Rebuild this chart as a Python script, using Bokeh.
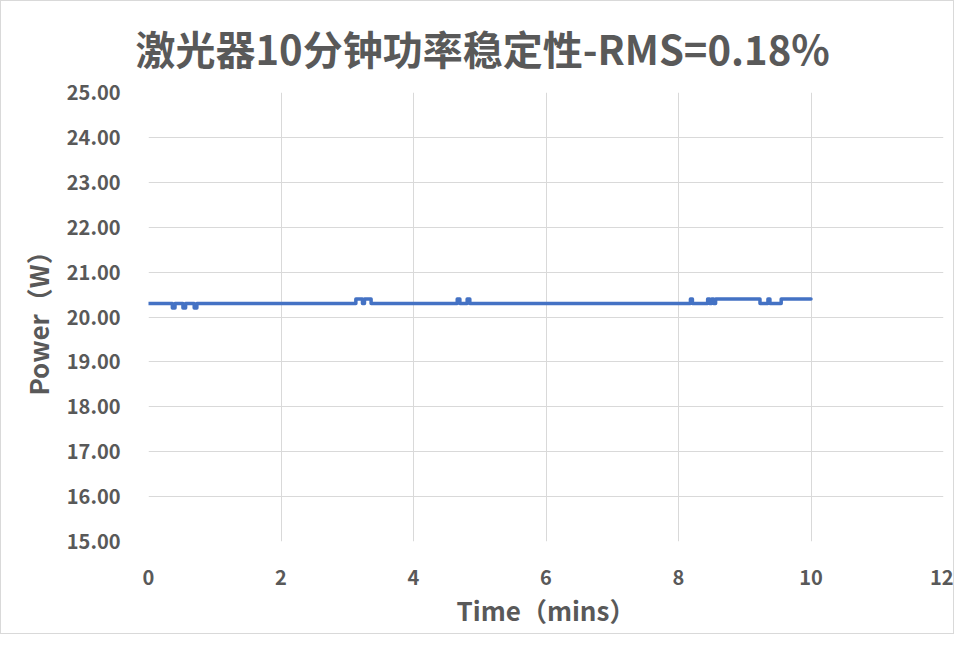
from bokeh.plotting import figure
from bokeh.models import FixedTicker, NumeralTickFormatter, Range1d
from bokeh.embed import file_html
from bokeh.resources import INLINE

# change points of the power trace (time in minutes, power in W)
change_times = [0.00, 0.36, 0.40, 0.52, 0.56, 0.69, 0.73,
                3.13, 3.23, 3.26, 3.36,
                4.66, 4.70, 4.81, 4.85,
                8.18, 8.21,
                8.44, 8.47, 8.50, 8.53, 8.56,
                9.23, 9.35, 9.38, 9.55, 10.00]
change_power = [20.3, 20.2, 20.3, 20.2, 20.3, 20.2, 20.3,
                20.4, 20.3, 20.4, 20.3,
                20.4, 20.3, 20.4, 20.3,
                20.4, 20.3,
                20.4, 20.3, 20.4, 20.3, 20.4,
                20.3, 20.4, 20.3, 20.4, 20.4]

x_ticks = [0, 2, 4, 6, 8, 10, 12]
y_ticks = [15, 16, 17, 18, 19, 20, 21, 22, 23, 24, 25]

title_text = "激光器10分钟功率稳定性-RMS=0.18%"
x_label = "Time（mins）"
y_label = "Power（W）"

TEXT = "#595959"
GRID = "#d9d9d9"
LINE = "#4472C4"

p = figure(width=954, height=634, output_backend="svg", toolbar_location=None,
           x_range=Range1d(0, 12), y_range=Range1d(15, 25),
           title=title_text,
           min_border_left=147, min_border_right=12,
           min_border_top=90, min_border_bottom=94)

p.title.align = "left"
p.title.offset = -13
p.title.text_font = "Noto Sans CJK SC"
p.title.text_font_size = "40px"
p.title.text_font_style = "bold"
p.title.text_color = TEXT
p.title.standoff = 31

p.step(change_times, change_power, mode="after", line_color=LINE, line_width=3.5,
       line_join="round", line_cap="round")

for ax in (p.xaxis[0], p.yaxis[0]):
    ax.axis_line_color = None
    ax.major_tick_line_color = None
    ax.minor_tick_line_color = None
    ax.major_label_text_color = TEXT
    ax.major_label_text_font = "Noto Sans CJK SC"
    ax.major_label_text_font_style = "bold"
    ax.major_label_text_font_size = "20px"
    ax.axis_label_text_color = TEXT
    ax.axis_label_text_font = "Noto Sans CJK SC"
    ax.axis_label_text_font_style = "bold"
    ax.axis_label_text_font_size = "26px"

p.xaxis.ticker = FixedTicker(ticks=x_ticks)
p.yaxis.ticker = FixedTicker(ticks=y_ticks)
p.yaxis.formatter = NumeralTickFormatter(format="0.00")
p.xaxis.axis_label = x_label
p.yaxis.axis_label = y_label
p.xaxis.major_label_standoff = 22
p.yaxis.major_label_standoff = 22
p.xaxis.axis_label_standoff = 3
p.yaxis.axis_label_standoff = 8

p.xgrid.ticker = FixedTicker(ticks=x_ticks)
p.ygrid.ticker = FixedTicker(ticks=y_ticks)
p.xgrid.grid_line_color = GRID
p.ygrid.grid_line_color = GRID
p.outline_line_color = None
p.styles = {"border": "1px solid #d9d9d9"}

open("out.html", "w").write(file_html(p, INLINE))
